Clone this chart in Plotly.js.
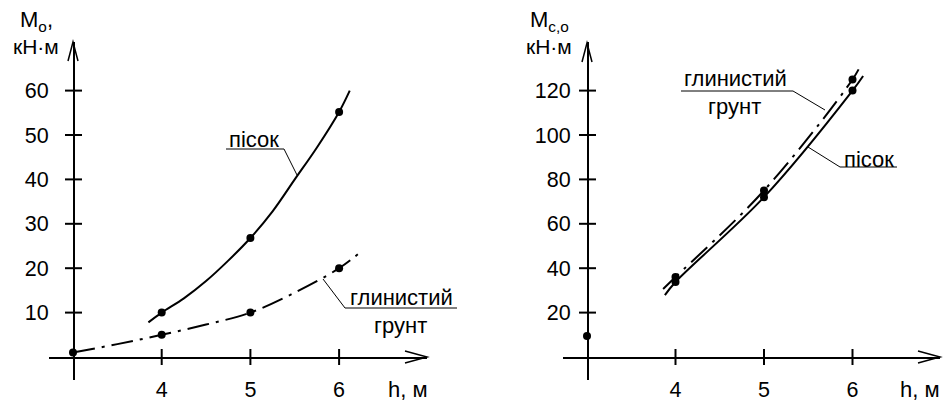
<!DOCTYPE html>
<html>
<head>
<meta charset="utf-8">
<script src="https://cdn.plot.ly/plotly-3.0.1.min.js"></script>
<style>html,body{margin:0;padding:0;background:#fff}#chart{width:947px;height:403px}</style>
</head>
<body>
<div id="chart"></div>
<script>
// ---- data ----
// left panel: M_o vs h
const sandPtsH = [4, 5, 6];
const sandPtsM = [10, 26.8, 55.2];
const sandCurveH = [3.85, 4, 4.25, 4.5, 4.75, 5, 5.25, 5.5, 5.75, 6, 6.12];
const sandCurveM = [7.8, 10, 13.2, 17.1, 21.7, 26.8, 32.8, 40, 47.2, 55.2, 60];
const clayPtsH = [3, 4, 5, 6];
const clayPtsM = [1, 5, 10, 20];
const clayCurveH = [3, 3.5, 4, 4.5, 5, 5.5, 6, 6.27];
const clayCurveM = [1, 2.9, 5, 7.3, 10, 14.5, 20, 24.1];
// right panel: M_c,o vs h
const claySoPtsH = [4, 5, 6];
const claySoPtsM = [36, 75, 125];
const sandSoPtsH = [4, 5, 6];
const sandSoPtsM = [33.8, 72, 120];
const originSoH = [3];
const originSoM = [9.5];
const claySoCurveH = [3.86, 4, 5, 6, 6.1];
const claySoCurveM = [30.6, 36, 75, 125, 132];
const sandSoCurveH = [3.88, 4, 5, 6, 6.12];
const sandSoCurveM = [27.9, 33.8, 72, 120, 126.6];
// ticks
const xTicks = [4, 5, 6];
const xTickText = ['4', '5', '6'];
const yTicksL = [10, 20, 30, 40, 50, 60];
const yTicksR = [20, 40, 60, 80, 100, 120];

const W = 947, H = 403;
const PX = x => x / W;
const PY = y => 1 - y / H;
const FONT = 'Arial, "Liberation Sans", sans-serif';
const DASHDOT = '22px,7px,3px,7px';
const TICKFONT = {family: FONT, size: 21.5, color: '#000'};

const traces = [
  {x: sandCurveH, y: sandCurveM, xaxis: 'x', yaxis: 'y', mode: 'lines', line: {color: '#000', width: 2, shape: 'spline'}},
  {x: clayCurveH, y: clayCurveM, xaxis: 'x', yaxis: 'y', mode: 'lines', line: {color: '#000', width: 2, shape: 'spline', dash: DASHDOT}},
  {x: sandPtsH, y: sandPtsM, xaxis: 'x', yaxis: 'y', mode: 'markers', marker: {color: '#000', size: 8}},
  {x: clayPtsH, y: clayPtsM, xaxis: 'x', yaxis: 'y', mode: 'markers', marker: {color: '#000', size: 8}, cliponaxis: false},
  {x: claySoCurveH, y: claySoCurveM, xaxis: 'x2', yaxis: 'y2', mode: 'lines', line: {color: '#000', width: 2, shape: 'spline', dash: DASHDOT}},
  {x: sandSoCurveH, y: sandSoCurveM, xaxis: 'x2', yaxis: 'y2', mode: 'lines', line: {color: '#000', width: 2, shape: 'spline'}},
  {x: claySoPtsH, y: claySoPtsM, xaxis: 'x2', yaxis: 'y2', mode: 'markers', marker: {color: '#000', size: 8}},
  {x: sandSoPtsH, y: sandSoPtsM, xaxis: 'x2', yaxis: 'y2', mode: 'markers', marker: {color: '#000', size: 8}},
  {x: originSoH, y: originSoM, xaxis: 'x2', yaxis: 'y2', mode: 'markers', marker: {color: '#000', size: 8}, cliponaxis: false}
];

// axis line + labels (ticks transparent: only set the label distance; crossing tick marks drawn as shapes)
function xMain(dom, rng, labelGap) {
  return {domain: dom, range: rng, anchor: 'free', position: PY(357), showgrid: false, zeroline: false,
    tickvals: xTicks, ticktext: xTickText, ticks: 'outside', ticklen: labelGap, tickwidth: 1, tickcolor: 'rgba(0,0,0,0)',
    tickfont: TICKFONT, showline: true, linecolor: '#000', linewidth: 1.5, fixedrange: true};
}
function yMain(rng, pos, ticks, labelGap) {
  return {domain: [PY(380), PY(42)], range: rng, anchor: 'free', position: pos, showgrid: false, zeroline: false,
    tickvals: ticks, ticks: 'outside', ticklen: labelGap, tickwidth: 1, tickcolor: 'rgba(0,0,0,0)',
    tickfont: TICKFONT, showline: true, linecolor: '#000', linewidth: 1.5, fixedrange: true};
}

const xRangeL = [3 + (49 - 73) / 88.7, 3 + (427 - 73) / 88.7];
const yRangeL = [-(380 - 357) / 4.44, (357 - 42) / 4.44];
const xRangeR = [3 + (563 - 587) / 88.5, 3 + (940 - 587) / 88.5];
const yRangeR = [-(380 - 357) / 2.22, (357 - 42) / 2.22];

function ann(text, x, y, xanchor, size) {
  return {text: text, x: PX(x), y: PY(y), xref: 'paper', yref: 'paper', showarrow: false,
    xanchor: xanchor || 'center', yanchor: 'middle', font: {family: FONT, size: size || 22, color: '#000'}};
}
function seg(x0, y0, x1, y1, w) {
  return {type: 'line', xref: 'paper', yref: 'paper', x0: PX(x0), y0: PY(y0), x1: PX(x1), y1: PY(y1), line: {color: '#000', width: w || 1}};
}
function vpath(pts) {
  return {type: 'path', xref: 'paper', yref: 'paper',
    path: 'M' + pts.map(p => PX(p[0]) + ',' + PY(p[1])).join(' L'), line: {color: '#000', width: 1.5}};
}
function xTickMarks(vals, xref) {
  return vals.map(v => ({type: 'line', xref: xref, yref: 'paper', x0: v, x1: v, y0: PY(349), y1: PY(365),
    line: {color: '#000', width: 2}}));
}
function yTickMarks(vals, yref, axPx) {
  return vals.map(v => ({type: 'line', xref: 'paper', yref: yref, x0: PX(axPx - 8), x1: PX(axPx + 9), y0: v, y1: v,
    line: {color: '#000', width: 2}}));
}

const layout = {
  width: W, height: H, margin: {l: 0, r: 0, t: 0, b: 0},
  paper_bgcolor: '#fff', plot_bgcolor: 'rgba(0,0,0,0)', showlegend: false,
  xaxis: xMain([PX(49), PX(427)], xRangeL, 13),
  yaxis: yMain(yRangeL, PX(73), yTicksL, 20),
  xaxis2: xMain([PX(563), PX(940)], xRangeR, 13),
  yaxis2: yMain(yRangeR, PX(587), yTicksR, 12),
  annotations: [
    ann('пісок', 253.5, 140),
    ann('глинистий', 401.5, 297),
    ann('грунт', 400, 325),
    ann('M<sub>o</sub>,', 18, 21, 'left', 22),
    ann('кН·м', 11, 47, 'left', 21),
    ann('h, м', 408, 389),
    ann('глинистий', 735, 79),
    ann('грунт', 734, 106),
    ann('пісок', 869, 159),
    ann('M<sub>с,о</sub>', 528, 21, 'left', 22),
    ann('кН·м', 524, 47, 'left', 21),
    ann('h, м', 920, 389)
  ],
  shapes: [
    seg(226, 149, 284, 149), seg(284, 149, 297, 175),
    seg(345, 308, 457, 308), seg(345, 308, 323, 279),
    seg(681, 91, 793, 91), seg(793, 91, 825, 110),
    seg(840, 167, 897, 167), seg(840, 167, 808, 147),
    vpath([[405, 351], [427, 357], [405, 363]]),
    vpath([[918, 351], [940, 357], [918, 363]]),
    vpath([[68, 61], [73, 42], [78, 61]]),
    vpath([[582, 62], [587, 43], [592, 62]])
  ].concat(xTickMarks(xTicks, 'x'), xTickMarks(xTicks, 'x2'),
           yTickMarks(yTicksL, 'y', 73), yTickMarks(yTicksR, 'y2', 587))
};

Plotly.newPlot('chart', traces, layout, {displayModeBar: false, staticPlot: true});
</script>
</body>
</html>
